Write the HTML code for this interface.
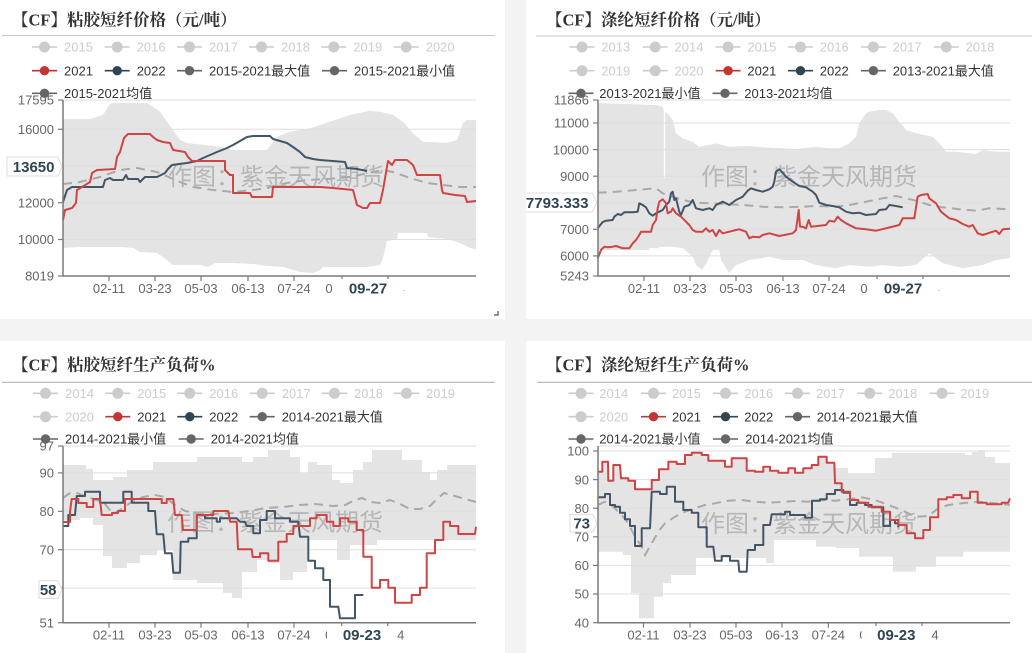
<!DOCTYPE html>
<html><head><meta charset="utf-8"><style>
html,body{margin:0;padding:0;background:#f3f3f3;}
svg{display:block;}
.t{font-family:"Liberation Serif","Noto Serif CJK SC",serif;font-weight:bold;font-size:16.5px;fill:#333;}
.lg{font-family:"Liberation Sans","Noto Sans CJK SC",sans-serif;font-size:13px;fill:#333;}
.lgo{font-family:"Liberation Sans","Noto Sans CJK SC",sans-serif;font-size:13px;fill:#ccc;}
.ax{font-family:"Liberation Sans",sans-serif;font-size:13px;fill:#666;}
.axc{font-family:"Liberation Sans",sans-serif;font-size:13px;fill:#666;text-anchor:middle;}
.pt{font-family:"Liberation Sans",sans-serif;font-size:15px;font-weight:bold;fill:#2f4554;}
.wm{font-family:"Liberation Sans","Noto Sans CJK SC",sans-serif;font-size:24px;fill:#8a8a8a;opacity:.5;}
.red{fill:none;stroke:#cf4444;stroke-width:2;stroke-linejoin:round;}
.dk{fill:none;stroke:#435667;stroke-width:2;stroke-linejoin:round;}
.mn{fill:none;stroke:#a9a9a9;stroke-width:2;stroke-dasharray:9 6;}
.grid{stroke:#dedede;stroke-width:1;}
.axl{stroke:#7a7a7a;stroke-width:1.5;fill:none;}
</style></head><body>
<svg width="1032" height="653" viewBox="0 0 1032 653" xmlns="http://www.w3.org/2000/svg">
<rect x="0" y="0" width="1032" height="653" fill="#f3f3f3"/>
<rect x="0" y="0" width="505" height="319" fill="#fff"/>
<rect x="526" y="0" width="506" height="319" fill="#fff"/>
<rect x="0" y="341" width="505" height="312" fill="#fff"/>
<rect x="526" y="341" width="506" height="312" fill="#fff"/>

<!-- ========== TOP LEFT ========== -->
<text class="t" x="12" y="25.3">【CF】粘胶短纤价格（元/吨）</text>
<line x1="2" y1="35.5" x2="495" y2="35.5" stroke="#c8c8c8" stroke-width="1"/>
<polygon fill="#e4e4e4" points="63,119 90,119 103,115 110,104 113,103 147,103 160,111.7 167,121.7 173,130 180,140 187,143 220,146.7 233,150 267,150 277,136.7 290,131.7 310,128.3 330,121.7 350,115 370,110.7 380,111.7 393,115 403,121.7 413,133.3 423,141.7 447,142.7 457,140 463,123.3 467,120 476,120 476,276 63,276"/>
<polygon fill="#fff" points="63,248 80,247 123,247 133,248 140,252 157,253 163,257 173,265 200,265 208,267 215,263 233,263 253,264 267,266 283,267 290,269 300,272 313,273 320,270 323,267 367,267 380,265 383,258 387,241 397,239 398,233 427,233 428,237 447,239 460,243 470,248 476,249 476,276 63,276"/>
<g class="grid"><line x1="63" y1="100" x2="476" y2="100"/><line x1="63" y1="129.3" x2="476" y2="129.3"/><line x1="63" y1="166" x2="476" y2="166"/><line x1="63" y1="202.8" x2="476" y2="202.8"/><line x1="63" y1="239.5" x2="476" y2="239.5"/></g>
<text class="wm" x="168" y="185">作图：紫金天风期货</text>
<polyline class="mn" points="63,184 80,182 100,177 120,170 137,168 157,172 180,182 193,187 213,190 233,192 253,190 267,188 287,183 307,180 327,179 350,177 373,172 383,170 393,172 410,178 427,183 443,185 460,187 476,187"/>
<polyline class="dk" points="63,202 67,190 72,187 103,187 105,180 110,178 113,180 123,180 126,175 128,179 138,179 140,182 145,177 157,177 165,173 168,169 172,165 187,163 197,161 203,158 210,155 217,152 227,148 233,145 240,141 247,137 253,136 270,136 273,139 280,141 287,143 293,147 300,152 305,157 313,159 320,160 345,162 347,168 357,169 367,171"/>
<polyline class="red" points="63,220 65,210 72,208 76,203 77,190 82,187 90,182 92,173 97,170 115,169 117,157 120,152 124,138 128,134 150,134 153,137 157,140 163,142 170,143 173,150 185,152 188,157 192,161 225,161 225,170 230,175 233,175 233,193 250,193 252,197 272,197 273,187 320,187 333,188 353,190 357,205 363,208 367,208 370,203 380,203 383,190 388,161 392,165 395,160 407,160 413,165 417,175 440,175 442,190 443,193 455,195 465,196 467,202 476,201"/>
<path class="axl" d="M63,100 V276 H476"/>
<g stroke="#7a7a7a" stroke-width="1.2"><line x1="58" y1="100" x2="63" y2="100"/><line x1="58" y1="129.3" x2="63" y2="129.3"/><line x1="58" y1="166" x2="63" y2="166"/><line x1="58" y1="202.8" x2="63" y2="202.8"/><line x1="58" y1="239.5" x2="63" y2="239.5"/><line x1="58" y1="276" x2="63" y2="276"/>
<line x1="109" y1="276" x2="109" y2="281"/><line x1="155" y1="276" x2="155" y2="281"/><line x1="201" y1="276" x2="201" y2="281"/><line x1="248" y1="276" x2="248" y2="281"/><line x1="294" y1="276" x2="294" y2="281"/><line x1="342" y1="276" x2="342" y2="281"/><line x1="388" y1="276" x2="388" y2="281"/></g>
<g class="ax" text-anchor="end"><text x="54" y="104.7">17595</text><text x="54" y="134">16000</text><text x="54" y="207.5">12000</text><text x="54" y="244.2">10000</text><text x="54" y="280.7">8019</text></g>
<g class="axc"><text x="109" y="293">02-11</text><text x="155" y="293">03-23</text><text x="201" y="293">05-03</text><text x="248" y="293">06-13</text><text x="294" y="293">07-24</text><text x="342" y="293">09-03</text><text x="388" y="293">10-14</text></g>
<rect x="333" y="279" width="70.5" height="19" fill="#fff"/>
<text class="pt" x="368" y="293.5" text-anchor="middle">09-27</text>
<path d="M7,157 H58 L62,166.5 L58,176 H7 Z" fill="#fff" stroke="#d5d5d5" stroke-width="0.8"/>
<text class="pt" x="54.5" y="171.9" text-anchor="end">13650</text>
<path d="M494,315 H498 V311" stroke="#555" stroke-width="1.2" fill="none"/>
<!-- legend TL -->
<g stroke="#ccc" stroke-width="1.6" fill="#ccc">
<line x1="32" y1="47" x2="57" y2="47"/><circle cx="44.5" cy="47" r="4.7"/>
<line x1="104.7" y1="47" x2="129.7" y2="47"/><circle cx="117.2" cy="47" r="4.7"/>
<line x1="177" y1="47" x2="202" y2="47"/><circle cx="189.5" cy="47" r="4.7"/>
<line x1="249" y1="47" x2="274" y2="47"/><circle cx="261.5" cy="47" r="4.7"/>
<line x1="321.3" y1="47" x2="346.3" y2="47"/><circle cx="333.8" cy="47" r="4.7"/>
<line x1="393.7" y1="47" x2="418.7" y2="47"/><circle cx="406.2" cy="47" r="4.7"/>
</g>
<g class="lgo"><text x="64" y="51.6">2015</text><text x="136.7" y="51.6">2016</text><text x="209" y="51.6">2017</text><text x="281" y="51.6">2018</text><text x="353.3" y="51.6">2019</text><text x="425.7" y="51.6">2020</text></g>
<g stroke-width="1.6">
<line x1="32" y1="70.7" x2="57" y2="70.7" stroke="#c23531"/><circle cx="44.5" cy="70.7" r="4.7" fill="#c23531"/>
<line x1="104.7" y1="70.7" x2="129.7" y2="70.7" stroke="#2f4554"/><circle cx="117.2" cy="70.7" r="4.7" fill="#2f4554"/>
<line x1="177" y1="70.7" x2="202" y2="70.7" stroke="#666"/><circle cx="189.5" cy="70.7" r="4.7" fill="#666"/>
<line x1="322" y1="70.7" x2="347" y2="70.7" stroke="#666"/><circle cx="334.5" cy="70.7" r="4.7" fill="#666"/>
<line x1="32" y1="93.3" x2="57" y2="93.3" stroke="#666"/><circle cx="44.5" cy="93.3" r="4.7" fill="#666"/>
</g>
<g class="lg"><text x="64" y="75.3">2021</text><text x="136.7" y="75.3">2022</text><text x="209" y="75.3">2015-2021最大值</text><text x="354" y="75.3">2015-2021最小值</text><text x="64" y="97.9">2015-2021均值</text></g>

<!-- ========== TOP RIGHT ========== -->
<svg x="526" y="0" width="506" height="319" overflow="hidden"><g transform="translate(-526,0)">
<text class="t" x="546" y="25.3">【CF】涤纶短纤价格（元/吨）</text>
<line x1="536" y1="36" x2="1032" y2="36" stroke="#c8c8c8" stroke-width="1"/>
<polygon fill="#e4e4e4" points="597.7,103 656,105 662.7,106.7 664.3,111.7 667.7,113.3 672.7,120 676,133.3 682.7,138.3 692.7,141.7 699.3,146.7 709.3,145 716,143.3 722.7,145 729.3,146.7 749.3,146 769.3,147.7 782.7,148.3 796,149 816,146.7 829.3,148.3 839.3,148.3 849.3,143.3 856,136.7 859.3,123.3 866,113.3 869.3,111.7 879.3,110 886,110 892.7,113.3 899.3,121.7 906,130 916,133.3 932.7,136.7 939.3,143.3 946,151.7 956,151.7 976,154 982.7,150 996,151.7 1010,151.7 1010,276 597.7,276"/>
<polygon fill="#fff" points="597.7,250 649.3,250 649.3,248.3 659.3,248.3 659.3,246.7 672.7,246.7 682.7,248.3 692.7,256.7 696,265 702,270 707,262 712.7,250 719.3,250 721,260 729.3,273 736,265 749.3,260 769.3,256.7 782.7,260 802.7,260 816,265 836,268.3 849.3,265 869.3,266.7 882.7,265 899.3,266.7 916,265 929.3,253.3 942.7,263.3 962.7,268.3 982.7,265 996,260 1010,258 1010,276 597.7,276"/>
<line x1="664.5" y1="103" x2="664.5" y2="178" stroke="#fff" stroke-width="1.3"/>
<g class="grid"><line x1="598" y1="100" x2="1010" y2="100"/><line x1="598" y1="123" x2="1010" y2="123"/><line x1="598" y1="149.6" x2="1010" y2="149.6"/><line x1="598" y1="176.2" x2="1010" y2="176.2"/><line x1="598" y1="202.7" x2="1010" y2="202.7"/><line x1="598" y1="229.3" x2="1010" y2="229.3"/><line x1="598" y1="255.9" x2="1010" y2="255.9"/></g>
<text class="wm" x="701" y="185">作图：紫金天风期货</text>
<polyline class="mn" points="597.7,192.7 616,191.7 636,190 656,188.3 662.7,193.3 672.7,196.7 682.7,200 696,202.7 709.3,203.3 722.7,204 742.7,205 762.7,206.7 782.7,207.3 802.7,206.7 816,206 836,206.7 849.3,205 866,201.7 882.7,198.3 896,196 906,198.3 916,200.7 929.3,205 942.7,207.3 959.3,209.3 976,210.7 989.3,208.3 1010,209.3"/>
<polyline class="dk" points="597.7,228.3 602.7,222 606,220.7 612.7,220 614.3,216.7 617.7,214 621,215 624.3,212.3 632.7,212.3 637.7,211.7 639.3,203.3 642.7,205 646,207.3 649.3,213.3 652.7,215.7 656,213.3 659.3,211.7 662.7,210 666,205 669.3,201.7 671,193.3 672.7,191.7 674.3,200 676,198.3 679.3,211.7 681,215 684.3,206.7 689.3,205 692.7,200 696,208.3 702.7,210 709.3,208.3 712.7,210 716,205 722.7,201.7 729.3,205 736,200 742.7,196.7 747.7,190.7 751,188.3 756,190 762.7,191.7 769.3,189.3 772.7,186.7 774.3,181.7 776,171.7 779.3,169.3 782.7,172.7 786,176.7 792.7,181.7 799.3,186 806,187.3 812.7,191.7 816,195 819.3,202.7 826,205 832.7,206 839.3,207.3 846,211.7 852.7,213.3 859.3,212.7 866,215 876,214 879.3,210 886,209.3 889.3,205 896,206 902.7,207.3"/>
<polyline class="red" points="597.7,258.3 601,250 604.3,246.7 607.7,247.3 612.7,246.7 616,246 622.7,248.3 629.3,248.3 632.7,243.3 636,240 639.3,235 641,231.7 651,231.7 652.7,225 656,220 657.7,208.3 659.3,201.7 662.7,199.3 666,203.3 667.7,213.3 671,211.7 672.7,208.3 676,213.3 681,216.7 682.7,218.3 689.3,225 692.7,230 696,231.7 702.7,231.7 706,228.3 709.3,231.7 712.7,230 716,236 719.3,230 722.7,233.3 729.3,231.7 736,230 739.3,229.3 746,231.7 749.3,238.3 752.7,236.7 759.3,237.3 762.7,235 769.3,233.3 779.3,236 792.7,233.3 796,230 798.7,210 800,226.7 802.7,226.7 806,228.3 808.7,220 811,226.7 826,225 829.3,220.7 834.3,221.7 837.7,216.7 841,220 846,223.3 856,228.3 866,229.3 876,230.7 886,228.3 899.3,225 902.7,218.3 914.3,218.3 917.7,196.7 921,195 927.7,194 929.3,198.3 936,203.3 941,211.7 949.3,218.3 956,220 962.7,224 969.3,226.7 972.7,225 977.7,233.3 982.7,235 996,230.7 999.3,234 1002.7,229.3 1010,228.7"/>
<path class="axl" d="M598,100 V276 H1010"/>
<g stroke="#7a7a7a" stroke-width="1.2"><line x1="593" y1="100" x2="598" y2="100"/><line x1="593" y1="123" x2="598" y2="123"/><line x1="593" y1="149.6" x2="598" y2="149.6"/><line x1="593" y1="176.2" x2="598" y2="176.2"/><line x1="593" y1="202.7" x2="598" y2="202.7"/><line x1="593" y1="229.3" x2="598" y2="229.3"/><line x1="593" y1="255.9" x2="598" y2="255.9"/><line x1="593" y1="276" x2="598" y2="276"/>
<line x1="644" y1="276" x2="644" y2="281"/><line x1="690" y1="276" x2="690" y2="281"/><line x1="736" y1="276" x2="736" y2="281"/><line x1="783" y1="276" x2="783" y2="281"/><line x1="829" y1="276" x2="829" y2="281"/><line x1="877" y1="276" x2="877" y2="281"/><line x1="923" y1="276" x2="923" y2="281"/></g>
<g class="ax" text-anchor="end"><text x="589" y="104.7">11866</text><text x="589" y="127.7">11000</text><text x="589" y="154.3">10000</text><text x="589" y="180.9">9000</text><text x="589" y="234">7000</text><text x="589" y="260.6">6000</text><text x="589" y="280.7">5243</text></g>
<g class="axc"><text x="644" y="293">02-11</text><text x="690" y="293">03-23</text><text x="736" y="293">05-03</text><text x="783" y="293">06-13</text><text x="829" y="293">07-24</text><text x="877" y="293">09-03</text><text x="923" y="293">10-14</text></g>
<rect x="868" y="279" width="70.5" height="19" fill="#fff"/>
<text class="pt" x="903" y="293.5" text-anchor="middle">09-27</text>
<path d="M520,193 H592 L597,202.5 L592,212 H520 Z" fill="#fff" stroke="#d5d5d5" stroke-width="0.8"/>
<text class="pt" x="588.5" y="207.9" text-anchor="end">7793.333</text>
</g></svg>
<!-- legend TR -->
<g stroke="#ccc" stroke-width="1.6" fill="#ccc">
<line x1="569.5" y1="47" x2="594.5" y2="47"/><circle cx="582" cy="47" r="4.7"/>
<line x1="642.7" y1="47" x2="667.7" y2="47"/><circle cx="655.2" cy="47" r="4.7"/>
<line x1="715.6" y1="47" x2="740.6" y2="47"/><circle cx="728.1" cy="47" r="4.7"/>
<line x1="788" y1="47" x2="813" y2="47"/><circle cx="800.5" cy="47" r="4.7"/>
<line x1="860.9" y1="47" x2="885.9" y2="47"/><circle cx="873.4" cy="47" r="4.7"/>
<line x1="933.7" y1="47" x2="958.7" y2="47"/><circle cx="946.2" cy="47" r="4.7"/>
<line x1="569.5" y1="70.7" x2="594.5" y2="70.7"/><circle cx="582" cy="70.7" r="4.7"/>
<line x1="642.7" y1="70.7" x2="667.7" y2="70.7"/><circle cx="655.2" cy="70.7" r="4.7"/>
</g>
<g class="lgo"><text x="601.3" y="51.6">2013</text><text x="674.5" y="51.6">2014</text><text x="747.4" y="51.6">2015</text><text x="819.8" y="51.6">2016</text><text x="892.7" y="51.6">2017</text><text x="965.5" y="51.6">2018</text><text x="601.3" y="75.3">2019</text><text x="674.5" y="75.3">2020</text></g>
<g stroke-width="1.6">
<line x1="715.6" y1="70.7" x2="740.6" y2="70.7" stroke="#c23531"/><circle cx="728.1" cy="70.7" r="4.7" fill="#c23531"/>
<line x1="788" y1="70.7" x2="813" y2="70.7" stroke="#2f4554"/><circle cx="800.5" cy="70.7" r="4.7" fill="#2f4554"/>
<line x1="860.9" y1="70.7" x2="885.9" y2="70.7" stroke="#666"/><circle cx="873.4" cy="70.7" r="4.7" fill="#666"/>
<line x1="568.5" y1="93.3" x2="593.5" y2="93.3" stroke="#666"/><circle cx="581" cy="93.3" r="4.7" fill="#666"/>
<line x1="712.5" y1="93.3" x2="737.5" y2="93.3" stroke="#666"/><circle cx="725" cy="93.3" r="4.7" fill="#666"/>
</g>
<g class="lg"><text x="747.4" y="75.3">2021</text><text x="819.8" y="75.3">2022</text><text x="892.7" y="75.3">2013-2021最大值</text><text x="599.3" y="97.9">2013-2021最小值</text><text x="744.3" y="97.9">2013-2021均值</text></g>

<!-- ========== BOTTOM LEFT ========== -->
<text class="t" x="12" y="370.3">【CF】粘胶短纤生产负荷%</text>
<line x1="2" y1="382.3" x2="495" y2="382.3" stroke="#aaa" stroke-width="1"/>
<polygon fill="#e4e4e4" points="63,465 86,465 86,469 93,469 93,480 113,480 113,477 127,477 127,470 153,470 153,462 197,462 197,457 242,457 242,462 253,462 253,457 268,457 268,450 290,450 290,457 300,457 300,473 308,473 308,462 317,462 317,465 332,465 332,480 340,480 340,483 353,483 353,470 363,470 363,462 372,462 372,450 402,450 402,460 422,460 422,472 430,472 430,480 437,480 437,470 447,470 447,465 476,465 476,622.7 63,622.7"/>
<polygon fill="#fff" points="63,520 80,520 80,518 93,518 93,525 103,525 103,556 112,556 112,568 127,568 127,563 140,563 140,555 157,555 157,550 173,550 173,580 197,580 197,583 223,583 223,593 232,593 232,598 242,598 242,572 257,572 257,560 268,560 268,563 280,563 280,580 293,580 293,572 307,572 307,540 337,540 337,560 350,560 350,545 377,545 377,540 476,540 476,622.7 63,622.7"/>
<g class="grid"><line x1="63" y1="446" x2="476" y2="446"/><line x1="63" y1="472.9" x2="476" y2="472.9"/><line x1="63" y1="511.3" x2="476" y2="511.3"/><line x1="63" y1="549.7" x2="476" y2="549.7"/><line x1="63" y1="588.1" x2="476" y2="588.1"/></g>
<text class="wm" x="167" y="530.5">作图：紫金天风期货</text>
<polyline class="mn" points="63,498 70,493 77,493 87,497 97,500 105,504 113,514 120,510 130,503 143,497 155,495 165,497 175,505 185,511 200,514 215,514 233,513 250,511 265,508 283,507 300,505 315,504 333,506 345,505 355,500 362,498 370,502 380,503 390,500 400,504 410,509 420,509 430,506 437,499 444,493 455,496 465,499 476,502"/>
<polyline class="dk" points="62.7,526 68.3,526 68.3,515 75,515 76.7,496 85,496 85,491.7 100,491.7 100,502.7 123.3,502.7 123.3,491.7 131.7,491.7 131.7,502.7 148.3,502.7 148.3,511 155,511 156.7,534.3 163.3,534.3 165,553.3 171.7,553.3 173.3,572.7 180,572.7 180.7,541.7 188.3,541.7 188.3,538.3 196.7,538.3 196.7,515 205,515 205,518.3 216.7,518.3 216.7,521.7 220,521.7 220,518.3 236.7,518.3 240,521.7 245,521.7 246.7,526 253.3,526 253.3,533.3 260,533.3 260,520 266.7,520 266.7,511 275,511 275,518.3 290,518.3 290,521.7 298.3,521.7 300,536.7 308.3,536.7 308.3,560.7 315,560.7 315,568.3 323.3,568.3 323.3,580 330,580 330,606.7 338.3,606.7 340,618.3 355,618.3 355,595 363.3,595"/>
<polyline class="red" points="63,522 70,522 70,511.7 71.7,499 78.3,499 78.3,503 86.7,503 86.7,507 93.3,507 93.3,499 100,499 101.7,515 112,515 112,513 118,513 118,511 125,511 125,499 161.7,499 161.7,503 166.7,503 166.7,499 173.3,499 175,515 181.7,515 183,530 196.7,530 196.7,515 213.3,515 213.3,511 228.3,511 230,521.7 236.7,521.7 238,549.3 251.7,549.3 252.7,557 260,557 260,553.3 268.3,553.3 268.3,560.7 278.3,560.7 278.3,541.7 286.7,541.7 286.7,534 293.3,534 293.3,526 310,526 310,518.3 316.7,518.3 316.7,515 326.7,515 326.7,521.7 333.3,521.7 333.3,526 340,526 340,518.3 348.3,518.3 348.3,521.7 356.7,521.7 356.7,530 363.3,530 363.3,556.7 371.7,556.7 371.7,587.7 380,587.7 380,580 388.3,580 388.3,587.7 395,587.7 395,602.7 411.7,602.7 411.7,595 420,595 420,587.7 426.7,587.7 426.7,553.3 435,553.3 435,540 443.3,540 443.3,521.7 450,521.7 450,526 458.3,526 458.3,534 475,534 476,526.7"/>
<path class="axl" d="M63,446 V622.7 H476"/>
<g stroke="#7a7a7a" stroke-width="1.2"><line x1="58" y1="446" x2="63" y2="446"/><line x1="58" y1="472.9" x2="63" y2="472.9"/><line x1="58" y1="511.3" x2="63" y2="511.3"/><line x1="58" y1="549.7" x2="63" y2="549.7"/><line x1="58" y1="588.1" x2="63" y2="588.1"/><line x1="58" y1="622.7" x2="63" y2="622.7"/>
<line x1="109" y1="622.7" x2="109" y2="627.7"/><line x1="155" y1="622.7" x2="155" y2="627.7"/><line x1="201" y1="622.7" x2="201" y2="627.7"/><line x1="248" y1="622.7" x2="248" y2="627.7"/><line x1="294" y1="622.7" x2="294" y2="627.7"/><line x1="341.7" y1="622.7" x2="341.7" y2="627.7"/><line x1="387.7" y1="622.7" x2="387.7" y2="627.7"/></g>
<g class="ax" text-anchor="end"><text x="54" y="450.7">97</text><text x="54" y="477.6">90</text><text x="54" y="516">80</text><text x="54" y="554.4">70</text><text x="54" y="627.4">51</text></g>
<g class="axc"><text x="109" y="639.7">02-11</text><text x="155" y="639.7">03-23</text><text x="201" y="639.7">05-03</text><text x="248" y="639.7">06-13</text><text x="294" y="639.7">07-24</text><text x="341.7" y="639.7">09-03</text><text x="387.7" y="639.7">10-14</text></g>
<rect x="327" y="626" width="70" height="19" fill="#fff"/>
<text class="pt" x="362" y="640.2" text-anchor="middle">09-23</text>
<path d="M39,580.7 H58 L62,589.5 L58,598.3 H39 Z" fill="#fff" stroke="#d5d5d5" stroke-width="0.8"/>
<text class="pt" x="56.5" y="594.9" text-anchor="end">58</text>
<!-- legend BL -->
<g stroke="#ccc" stroke-width="1.6" fill="#ccc">
<line x1="33" y1="393.3" x2="58" y2="393.3"/><circle cx="45.5" cy="393.3" r="4.7"/>
<line x1="105.3" y1="393.3" x2="130.3" y2="393.3"/><circle cx="117.8" cy="393.3" r="4.7"/>
<line x1="177.3" y1="393.3" x2="202.3" y2="393.3"/><circle cx="189.8" cy="393.3" r="4.7"/>
<line x1="249.7" y1="393.3" x2="274.7" y2="393.3"/><circle cx="262.2" cy="393.3" r="4.7"/>
<line x1="322" y1="393.3" x2="347" y2="393.3"/><circle cx="334.5" cy="393.3" r="4.7"/>
<line x1="394" y1="393.3" x2="419" y2="393.3"/><circle cx="406.5" cy="393.3" r="4.7"/>
<line x1="33" y1="416.7" x2="58" y2="416.7"/><circle cx="45.5" cy="416.7" r="4.7"/>
</g>
<g class="lgo"><text x="65" y="397.9">2014</text><text x="137.3" y="397.9">2015</text><text x="209.3" y="397.9">2016</text><text x="281.7" y="397.9">2017</text><text x="354" y="397.9">2018</text><text x="426" y="397.9">2019</text><text x="65" y="421.3">2020</text></g>
<g stroke-width="1.6">
<line x1="105.3" y1="416.7" x2="130.3" y2="416.7" stroke="#c23531"/><circle cx="117.8" cy="416.7" r="4.7" fill="#c23531"/>
<line x1="177.3" y1="416.7" x2="202.3" y2="416.7" stroke="#2f4554"/><circle cx="189.8" cy="416.7" r="4.7" fill="#2f4554"/>
<line x1="249.7" y1="416.7" x2="274.7" y2="416.7" stroke="#666"/><circle cx="262.2" cy="416.7" r="4.7" fill="#666"/>
<line x1="33" y1="439" x2="58" y2="439" stroke="#666"/><circle cx="45.5" cy="439" r="4.7" fill="#666"/>
<line x1="178.7" y1="439" x2="203.7" y2="439" stroke="#666"/><circle cx="191.2" cy="439" r="4.7" fill="#666"/>
</g>
<g class="lg"><text x="137.3" y="421.3">2021</text><text x="209.3" y="421.3">2022</text><text x="281.7" y="421.3">2014-2021最大值</text><text x="65" y="443.6">2014-2021最小值</text><text x="210.7" y="443.6">2014-2021均值</text></g>

<!-- ========== BOTTOM RIGHT ========== -->
<text class="t" x="546" y="370.3">【CF】涤纶短纤生产负荷%</text>
<line x1="537" y1="382.3" x2="1032" y2="382.3" stroke="#aaa" stroke-width="1"/>
<polygon fill="#e4e4e4" points="597.7,471.7 602.3,471.7 602.3,461.7 608,461.7 608.3,480.7 613.3,480.7 613.3,465 620,465 621,478.3 628.3,478.3 628.3,480.7 635,480.7 635,489.3 651.7,489.3 651.7,480 659,480 659,469.3 668.3,469.3 668.3,461.7 676.7,461.7 676.7,464 685,464 685,455 691.7,455 691.7,452.7 701.7,452.7 701.7,455 708.3,455 708.3,460.7 725,460.7 725,466.7 731.7,466.7 731.7,458.3 746.7,458.3 746.7,470.7 755,470.7 755,471.7 763.3,471.7 763.3,466.7 770,466.7 770,470.7 778.3,470.7 778.3,472.7 788.3,472.7 788.3,468.3 795,468.3 795,472.7 803.3,472.7 803.3,468.3 811.7,468.3 811.7,465 818.3,465 818.3,456.7 826.7,456.7 826.7,462.7 834.3,462.7 835,468 848,468 848,473 875,473 875,458 892,458 892,453 965,453 965,455 972,455 972,452 978,452 978,450 985,450 985,457 995,457 995,463 1010,463 1010,622.7 597.7,622.7"/>
<polygon fill="#fff" points="597.7,551.7 622.7,551.7 622.7,555 631,555 631,593 639,593 639,618.3 654,618.3 654,596.7 663,596.7 663,583 671,583 671,575 696,575 696,558 766,558 766,563 774,563 774,540 816,540 816,546.7 836,546.7 836,548 859,548 859,556.7 893,556.7 893,571.7 916,571.7 916,566.7 936,566.7 936,556.7 963,556.7 963,551.7 1010,551.7 1010,622.7 597.7,622.7"/>
<g class="grid"><line x1="598" y1="446" x2="1010" y2="446"/><line x1="598" y1="451" x2="1010" y2="451"/><line x1="598" y1="479.6" x2="1010" y2="479.6"/><line x1="598" y1="508.2" x2="1010" y2="508.2"/><line x1="598" y1="536.8" x2="1010" y2="536.8"/><line x1="598" y1="565.4" x2="1010" y2="565.4"/><line x1="598" y1="594" x2="1010" y2="594"/></g>
<text class="wm" x="701" y="532">作图：紫金天风期货</text>
<polyline class="mn" points="597.7,505 605,501.7 613.3,506.7 621.7,515 628.3,523.3 635,536.7 641.7,546.7 645,555 651.7,543.3 658.3,531.7 665,523.3 675,516.7 685,511.7 695,508.3 705,505 715,503.3 728.3,500.7 741.7,500 755,501.7 768.3,502.7 781.7,502 795,501 808.3,501.7 821.7,500 835,500.7 848.3,499.3 861.7,497.3 875,500 888.3,505 901.7,510 915,516.7 928.3,516 938.3,508.3 948.3,505 961.7,503.3 978.3,501.7 995,503.3 1010,505"/>
<polyline class="dk" points="597.7,497.3 605,497.3 605,494 610,494 610,505 615,505 615,506.7 620,506.7 620,512.7 625,512.7 625,519.3 630,519.3 630,526 635,526 635,546 641.7,546 641.7,528.3 650,528.3 651.7,491.7 660,491.7 660,494 666.7,494 666.7,486.7 675,486.7 675,501.7 683.3,501.7 683.3,510 691.7,510 691.7,512.7 698.3,512.7 698.3,527.3 706.7,527.3 706.7,546.7 713.3,546.7 715,560.7 721.7,560.7 721.7,556 730,556 730,560.7 738.3,560.7 739.3,571.7 746.7,571.7 747.7,550 755,550 755,545 763.3,545 763.3,525 770,525 771.7,514.3 785,514.3 785,511.7 790,511.7 790,515 805,515 805,517.7 812,517.7 812,500.7 820,500.7 820,499.3 826.7,499.3 826.7,494 835,494 835,490 843.3,490 843.3,492.7 850,492.7 850,505 856.7,505 856.7,502.7 865,502.7 865,505 871.7,505 871.7,507.3 883.3,507.3 883.3,526 890,526 890,520 895,520 895,523.3 898.3,523.3 898.3,527.3"/>
<polyline class="red" points="597.7,471.7 602.3,471.7 602.3,461.7 608,461.7 608.3,480.7 613.3,480.7 613.3,465 620,465 621,478.3 628.3,478.3 628.3,480.7 635,480.7 635,489.3 651.7,489.3 651.7,480 659,480 659,469.3 668.3,469.3 668.3,461.7 676.7,461.7 676.7,464 685,464 685,455 691.7,455 691.7,452.7 701.7,452.7 701.7,455 708.3,455 708.3,460.7 725,460.7 725,466.7 731.7,466.7 731.7,458.3 746.7,458.3 746.7,470.7 755,470.7 755,471.7 763.3,471.7 763.3,466.7 770,466.7 770,470.7 778.3,470.7 778.3,472.7 788.3,472.7 788.3,468.3 795,468.3 795,472.7 803.3,472.7 803.3,468.3 811.7,468.3 811.7,465 818.3,465 818.3,456.7 826.7,456.7 826.7,462.7 834.3,462.7 835,483.3 841.7,483.3 841.7,491.7 850,491.7 850,500 858.3,500 858.3,502.7 868.3,502.7 868.3,506.7 881.7,506.7 881.7,511.7 890,511.7 890,520 898.3,520 898.3,525 906.7,525 906.7,533.3 915,533.3 915,538.3 923.3,538.3 923.3,530 930,530 930,517.3 938.3,517.3 938.3,499.3 946.7,499.3 946.7,497.3 953.3,497.3 953.3,495 961.7,495 961.7,498.3 970,498.3 970,491.7 977.7,491.7 977.7,502.7 986.7,502.7 986.7,504.3 1001.7,504.3 1001.7,502.7 1008.3,502.7 1010,498.3"/>
<path class="axl" d="M598,446 V622.7 H1010"/>
<g stroke="#7a7a7a" stroke-width="1.2"><line x1="593" y1="451" x2="598" y2="451"/><line x1="593" y1="479.6" x2="598" y2="479.6"/><line x1="593" y1="508.2" x2="598" y2="508.2"/><line x1="593" y1="536.8" x2="598" y2="536.8"/><line x1="593" y1="565.4" x2="598" y2="565.4"/><line x1="593" y1="594" x2="598" y2="594"/><line x1="593" y1="622.7" x2="598" y2="622.7"/>
<line x1="643.5" y1="622.7" x2="643.5" y2="627.7"/><line x1="690" y1="622.7" x2="690" y2="627.7"/><line x1="736" y1="622.7" x2="736" y2="627.7"/><line x1="782" y1="622.7" x2="782" y2="627.7"/><line x1="828.3" y1="622.7" x2="828.3" y2="627.7"/><line x1="876" y1="622.7" x2="876" y2="627.7"/><line x1="922" y1="622.7" x2="922" y2="627.7"/></g>
<g class="ax" text-anchor="end"><text x="589" y="455.7">100</text><text x="589" y="484.3">90</text><text x="589" y="512.9">80</text><text x="589" y="541.5">70</text><text x="589" y="570.1">60</text><text x="589" y="598.7">50</text><text x="589" y="627.4">40</text></g>
<g class="axc"><text x="643.5" y="639.7">02-11</text><text x="690" y="639.7">03-23</text><text x="736" y="639.7">05-03</text><text x="782" y="639.7">06-13</text><text x="828.3" y="639.7">07-24</text><text x="876" y="639.7">09-03</text><text x="922" y="639.7">10-14</text></g>
<rect x="861.5" y="626" width="69.5" height="19" fill="#fff"/>
<text class="pt" x="896.3" y="640.2" text-anchor="middle">09-23</text>
<path d="M570,514.5 H593 L597,523.3 L593,532 H570 Z" fill="#fff" stroke="#d5d5d5" stroke-width="0.8"/>
<text class="pt" x="590" y="528.7" text-anchor="end">73</text>
<!-- legend BR -->
<g stroke="#ccc" stroke-width="1.6" fill="#ccc">
<line x1="568.5" y1="393.3" x2="593.5" y2="393.3"/><circle cx="581" cy="393.3" r="4.7"/>
<line x1="641" y1="393.3" x2="666" y2="393.3"/><circle cx="653.5" cy="393.3" r="4.7"/>
<line x1="713" y1="393.3" x2="738" y2="393.3"/><circle cx="725.5" cy="393.3" r="4.7"/>
<line x1="785" y1="393.3" x2="810" y2="393.3"/><circle cx="797.5" cy="393.3" r="4.7"/>
<line x1="857.3" y1="393.3" x2="882.3" y2="393.3"/><circle cx="869.8" cy="393.3" r="4.7"/>
<line x1="929.5" y1="393.3" x2="954.5" y2="393.3"/><circle cx="942" cy="393.3" r="4.7"/>
<line x1="568.5" y1="416.7" x2="593.5" y2="416.7"/><circle cx="581" cy="416.7" r="4.7"/>
</g>
<g class="lgo"><text x="599.3" y="397.9">2014</text><text x="672" y="397.9">2015</text><text x="744.3" y="397.9">2016</text><text x="816" y="397.9">2017</text><text x="888.3" y="397.9">2018</text><text x="960.3" y="397.9">2019</text><text x="599.3" y="421.3">2020</text></g>
<g stroke-width="1.6">
<line x1="641" y1="416.7" x2="666" y2="416.7" stroke="#c23531"/><circle cx="653.5" cy="416.7" r="4.7" fill="#c23531"/>
<line x1="713" y1="416.7" x2="738" y2="416.7" stroke="#2f4554"/><circle cx="725.5" cy="416.7" r="4.7" fill="#2f4554"/>
<line x1="785" y1="416.7" x2="810" y2="416.7" stroke="#666"/><circle cx="797.5" cy="416.7" r="4.7" fill="#666"/>
<line x1="568.5" y1="439" x2="593.5" y2="439" stroke="#666"/><circle cx="581" cy="439" r="4.7" fill="#666"/>
<line x1="713" y1="439" x2="738" y2="439" stroke="#666"/><circle cx="725.5" cy="439" r="4.7" fill="#666"/>
</g>
<g class="lg"><text x="672" y="421.3">2021</text><text x="744.3" y="421.3">2022</text><text x="816.7" y="421.3">2014-2021最大值</text><text x="599.3" y="443.6">2014-2021最小值</text><text x="745.3" y="443.6">2014-2021均值</text></g>
</svg>
</body></html>
